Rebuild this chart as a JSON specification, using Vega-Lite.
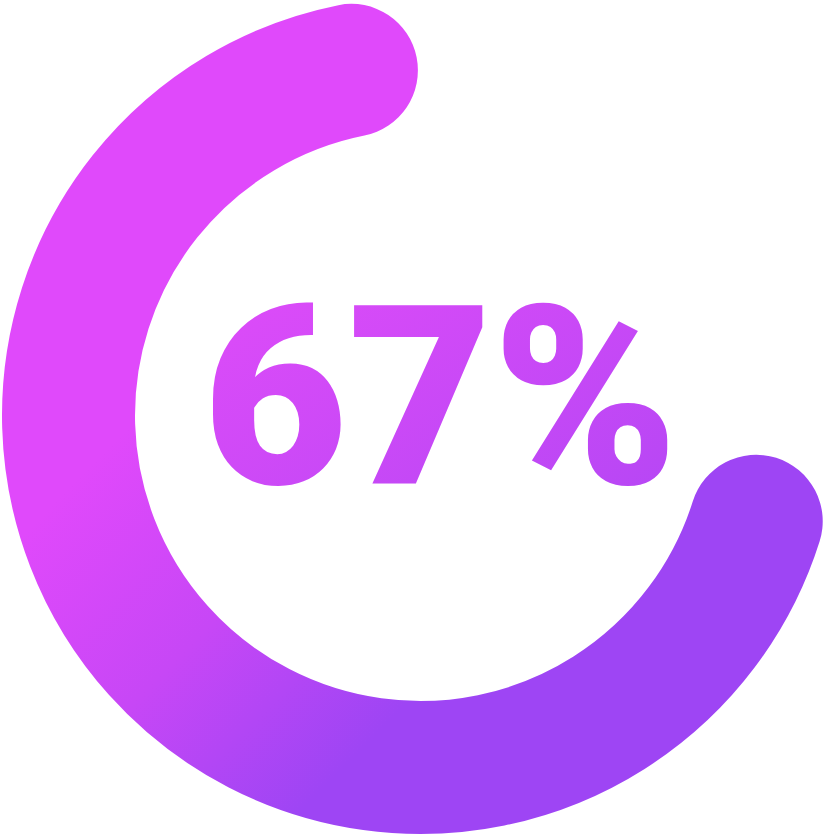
{
  "$schema": "https://vega.github.io/schema/vega-lite/v6.json",
  "width": 837,
  "height": 837,
  "autosize": {"type": "fit", "contains": "padding"},
  "padding": {"left": 4, "top": 0, "right": 0, "bottom": 6},
  "background": "white",
  "config": {"view": {"stroke": null}},
  "data": {"values": [{"label": "67%", "value": 67}]},
  "layer": [
    {
      "mark": {
        "type": "arc",
        "radius": 352,
        "radius2": 352,
        "fillOpacity": 0,
        "strokeWidth": 133,
        "strokeJoin": "round",
        "stroke": {
          "gradient": "linear",
          "x1": 0.3, "y1": 0.3, "x2": 0.7, "y2": 0.7,
          "stops": [
            {"offset": 0, "color": "#E049FB"},
            {"offset": 0.5, "color": "#C747F6"},
            {"offset": 1, "color": "#9E45F4"}
          ]
        }
      },
      "encoding": {
        "theta": {
          "field": "value",
          "type": "quantitative",
          "scale": {"domain": [0, 100], "range": [1.876, 8.159]}
        }
      }
    },
    {
      "mark": {
        "type": "text",
        "font": "Roboto",
        "fontWeight": 900,
        "fontSize": 250,
        "align": "center",
        "baseline": "alphabetic",
        "dx": 20,
        "dy": 68,
        "fill": {
          "gradient": "linear",
          "x1": 0, "y1": 0, "x2": 1, "y2": 1,
          "stops": [
            {"offset": 0, "color": "#E24CF9"},
            {"offset": 1, "color": "#B246F4"}
          ]
        }
      },
      "encoding": {"text": {"field": "label", "type": "nominal"}}
    }
  ]
}
